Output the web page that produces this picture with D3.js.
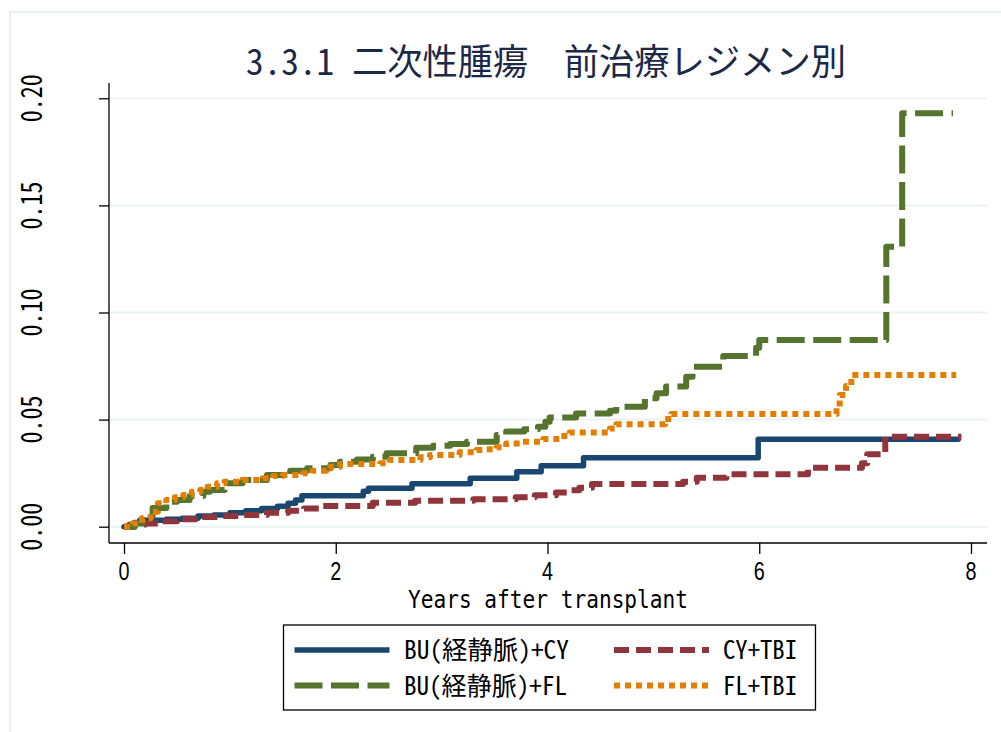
<!DOCTYPE html>
<html><head><meta charset="utf-8">
<script src="https://cdn.jsdelivr.net/npm/d3@7"></script>
<style>
html,body{margin:0;padding:0;background:#fff;}
text{font-family:"Noto Sans Mono CJK JP","Noto Sans CJK JP","DejaVu Sans Mono",monospace;}
text.lat{font-family:"DejaVu Sans Mono","Liberation Mono",monospace;}
text.num{font-family:"Liberation Sans Narrow","Liberation Sans",Arial,sans-serif;}
</style></head>
<body><svg id="c" width="1001" height="732"></svg>
<script>
const titleText = "3.3.1 二次性腫瘍　前治療レジメン別";
const xTitle = "Years after transplant";
const xTicks = [0, 2, 4, 6, 8];
const yTicks = [0, 0.05, 0.10, 0.15, 0.20];
const yTickLabels = ["0.00", "0.05", "0.10", "0.15", "0.20"];
const seriesNames = ["BU(経静脈)+CY", "CY+TBI", "BU(経静脈)+FL", "FL+TBI"];

const buCyT = [0,0.05,0.10,0.15,0.40,0.55,0.70,0.85,1.00,1.15,1.30,1.45,1.55,1.62,1.68,2.26,2.31,2.72,3.27,3.71,3.94,4.34,5.99,7.88];
const buCyV = [0,0.001,0.002,0.003,0.0035,0.004,0.005,0.0055,0.0065,0.0075,0.0085,0.0095,0.011,0.0125,0.0145,0.0165,0.0179,0.020,0.0226,0.0257,0.0285,0.0322,0.0408,0.0408];

const cyTbiT = [0,0.10,0.20,0.35,0.50,0.70,0.90,1.10,1.35,1.55,1.70,1.85,2.35,2.75,3.30,3.70,3.88,4.08,4.20,4.30,4.42,5.28,5.41,5.69,6.46,6.97,7.02,7.19,7.91];
const cyTbiV = [0,0.001,0.0015,0.0025,0.0035,0.0045,0.005,0.0055,0.0065,0.0075,0.0085,0.0097,0.0112,0.0121,0.0128,0.0137,0.0147,0.016,0.017,0.0182,0.0199,0.021,0.0229,0.0245,0.0275,0.0296,0.0338,0.042,0.042];

const buFlT = [0,0.10,0.18,0.27,0.40,0.50,0.62,0.75,0.81,0.95,1.12,1.35,1.57,1.73,1.95,2.04,2.20,2.35,2.48,2.76,2.92,3.08,3.24,3.52,3.61,3.78,3.91,3.98,4.02,4.27,4.59,4.65,4.92,5.03,5.12,5.31,5.37,5.66,5.97,6.00,7.20,7.35,7.83];
const buFlV = [0,0.0015,0.003,0.0087,0.0117,0.0125,0.0143,0.0163,0.0171,0.0203,0.0218,0.0241,0.0261,0.0273,0.0288,0.0303,0.0314,0.0327,0.0343,0.0369,0.0378,0.0386,0.0397,0.0428,0.0444,0.0455,0.0467,0.049,0.051,0.0529,0.0541,0.056,0.060,0.0623,0.0654,0.070,0.0747,0.0797,0.0835,0.0872,0.1307,0.193,0.193];

const flTbiT = [0,0.08,0.17,0.25,0.32,0.40,0.48,0.56,0.64,0.72,0.79,0.88,0.95,1.12,1.31,1.41,1.50,1.69,1.78,1.91,1.95,2.04,2.42,2.51,2.80,2.89,3.17,3.33,3.42,3.52,3.61,3.74,3.96,4.13,4.21,4.59,4.65,5.11,5.17,6.73,6.76,6.82,6.87,7.86];
const flTbiV = [0,0.0015,0.0039,0.007,0.0109,0.0125,0.0137,0.0148,0.0163,0.0171,0.0187,0.0203,0.021,0.0218,0.0226,0.0237,0.0241,0.0249,0.0261,0.0273,0.028,0.0293,0.0296,0.0311,0.0324,0.0335,0.0347,0.0358,0.0361,0.0371,0.0389,0.0397,0.0409,0.0423,0.044,0.0459,0.0478,0.0503,0.0526,0.056,0.0615,0.0657,0.0708,0.0708];

const seriesT = [buCyT, cyTbiT, buFlT, flTbiT];
const seriesV = [buCyV, cyTbiV, buFlV, flTbiV];
const colors = ["#1a476f", "#90353b", "#55752f", "#e37e00"];
const dashes = [null, "15,7", "28,8.5", "6,5"];
const widths = [5.5, 6, 6, 6];

const svg = d3.select("#c");
const x = d3.scaleLinear().domain([0, 8]).range([124, 971]);
const y = d3.scaleLinear().domain([0, 0.2]).range([526.7, 98.3]);
const axisBottom = 543, axisLeft = 109, axisTop = 83, plotRight = 987;

// outer frame
svg.append("rect").attr("x", 10).attr("y", 12).attr("width", 1000).attr("height", 740)
  .attr("fill", "#fff").attr("stroke", "#e3eced").attr("stroke-width", 1.5);

// title
svg.append("text").attr("x", 546).attr("y", 75).attr("text-anchor", "middle")
  .attr("font-size", 36).attr("fill", "#1c2946")
  .attr("textLength", 600).attr("lengthAdjust", "spacingAndGlyphs").text(titleText);

// gridlines
svg.append("g").selectAll("line").data(yTicks).join("line")
  .attr("x1", axisLeft + 1).attr("x2", plotRight)
  .attr("y1", d => y(d)).attr("y2", d => y(d))
  .attr("stroke", "#eaf2f3").attr("stroke-width", 2);

// y axis
const gy = svg.append("g").attr("transform", `translate(${axisLeft},0)`)
  .call(d3.axisLeft(y).tickValues(yTicks).tickSize(10).tickFormat(""));
gy.select(".domain").attr("d", `M0,${axisTop}V${axisBottom}`).attr("stroke", "#000").attr("stroke-width", 1.3);
gy.selectAll(".tick line").attr("stroke", "#000").attr("stroke-width", 1.3);
svg.append("g").selectAll("text").data(yTicks).join("text")
  .attr("transform", d => `translate(41.5,${y(d)}) rotate(-90)`)
  .attr("text-anchor", "middle").attr("font-size", 29).attr("fill", "#000")
  .attr("textLength", 48).attr("lengthAdjust", "spacingAndGlyphs")
  .text((d, i) => yTickLabels[i]);

// x axis
const gx = svg.append("g").attr("transform", `translate(0,${axisBottom})`)
  .call(d3.axisBottom(x).tickValues(xTicks).tickSize(11).tickFormat(""));
gx.select(".domain").attr("d", `M${axisLeft},0H${plotRight}`).attr("stroke", "#000").attr("stroke-width", 1.3);
gx.selectAll(".tick line").attr("stroke", "#000").attr("stroke-width", 1.3);
svg.append("g").selectAll("text").data(xTicks).join("text")
  .attr("class", "num")
  .attr("x", d => x(d)).attr("y", 580).attr("text-anchor", "middle")
  .attr("font-size", 26).attr("fill", "#000")
  .attr("textLength", 11).attr("lengthAdjust", "spacingAndGlyphs").text(d => d);
svg.append("text").attr("class", "lat").attr("x", 548).attr("y", 608).attr("text-anchor", "middle")
  .attr("font-size", 25).attr("fill", "#000")
  .attr("textLength", 280).attr("lengthAdjust", "spacingAndGlyphs").text(xTitle);

// curves
const line = d3.line().x(d => x(d[0])).y(d => y(d[1])).curve(d3.curveStepAfter);
seriesT.forEach((ts, i) => {
  const pts = ts.map((t, j) => [t, seriesV[i][j]]);
  svg.append("path").attr("d", line(pts)).attr("fill", "none")
    .attr("stroke", colors[i]).attr("stroke-width", widths[i])
    .attr("stroke-dasharray", dashes[i]).attr("stroke-linejoin", "round")
    .attr("stroke-linecap", i === 0 ? "round" : "butt");
});

// legend
svg.append("rect").attr("x", 283.5).attr("y", 625).attr("width", 532).attr("height", 85)
  .attr("fill", "#fff").attr("stroke", "#000").attr("stroke-width", 1.3);
const legPos = [[294.5, 650, 404, "start"], [614, 650, 797, "end"], [294.5, 685.5, 404, "start"], [614, 685.5, 797, "end"]];
const legLens = [165, 74, 163, 74];
seriesNames.forEach((name, i) => {
  const [sx, sy, tx, anc] = legPos[i];
  svg.append("line").attr("x1", sx).attr("x2", sx + 95).attr("y1", sy).attr("y2", sy)
    .attr("stroke", colors[i]).attr("stroke-width", widths[i])
    .attr("stroke-dasharray", dashes[i]);
  svg.append("text").attr("x", tx).attr("y", sy + 9).attr("text-anchor", anc)
    .attr("font-size", 25).attr("fill", "#000")
    .attr("textLength", legLens[i]).attr("lengthAdjust", "spacingAndGlyphs").text(name);
});
</script></body></html>
